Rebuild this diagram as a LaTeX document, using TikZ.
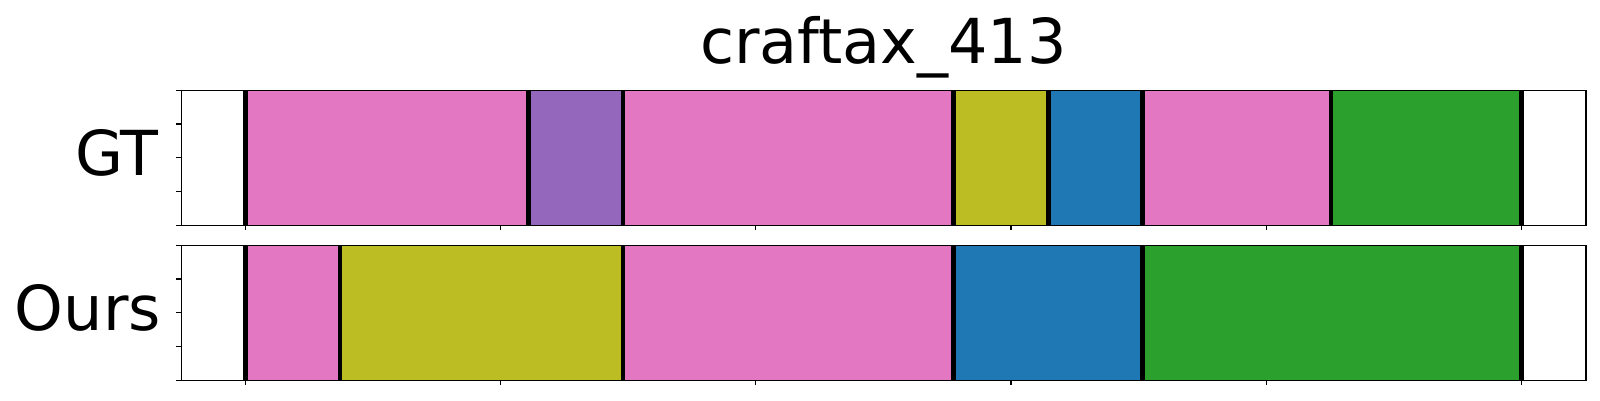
\documentclass[tikz,border=0pt]{standalone}
\usepackage{fontspec}
\setmainfont{DejaVu Sans}
\definecolor{tpink}{HTML}{E377C2}
\definecolor{tpurple}{HTML}{9467BD}
\definecolor{tolive}{HTML}{BCBD22}
\definecolor{tblue}{HTML}{1F77B4}
\definecolor{tgreen}{HTML}{2CA02C}
\begin{document}
\begin{tikzpicture}[x=1pt,y=1pt,
  bnd/.style={line width=4.4pt, black},
  frame/.style={line width=1.6pt, black},
  tickmark/.style={line width=1.2pt, black},
  lbl/.style={inner sep=0pt, font=\fontsize{62}{62}\selectfont}]
\useasboundingbox (0,0) rectangle (1600,400);
% data scope: x in frames
\begin{scope}[xshift=245.3pt, x=1.276pt]
  % GT panel
  \foreach \a/\b/\c in {0/222/tpink, 222/296/tpurple, 296/555/tpink, 555/629.5/tolive, 629.5/703/tblue, 703/851/tpink, 851/1000/tgreen}
    \fill[\c] (\a,174.7) rectangle (\b,309.7);
  \foreach \a in {0,222,296,555,629.5,703,851,1000}
    \draw[bnd] (\a,174.7) -- (\a,309.7);
  \foreach \t in {0,200,...,1000}
    \draw[tickmark] (\t,174.7) -- (\t,169.7);
  % Ours panel
  \foreach \a/\b/\c in {0/74/tpink, 74/296/tolive, 296/555/tpink, 555/703/tblue, 703/1000/tgreen}
    \fill[\c] (\a,19.7) rectangle (\b,154.7);
  \foreach \a in {0,74,296,555,703,1000}
    \draw[bnd] (\a,19.7) -- (\a,154.7);
  \foreach \t in {0,200,...,1000}
    \draw[tickmark] (\t,19.7) -- (\t,14.7);
\end{scope}
% frames and y ticks
\draw[frame] (181.3,174.7) rectangle (1585.7,309.7);
\draw[frame] (181.3,19.7) rectangle (1585.7,154.7);
\foreach \i in {0,...,4} {
  \draw[tickmark] (181.3,174.7+\i*33.75) -- ++(-5,0);
  \draw[tickmark] (181.3,19.7+\i*33.75) -- ++(-5,0);
}
% labels
\node[lbl, anchor=base] (title) at (883.5,336.7) {craftax\_413};
\node[lbl, anchor=base east] (gt) at (159,225) {GT};
\node[lbl, anchor=base east] (ours) at (161,69.5) {Ours};
\end{tikzpicture}
\end{document}
